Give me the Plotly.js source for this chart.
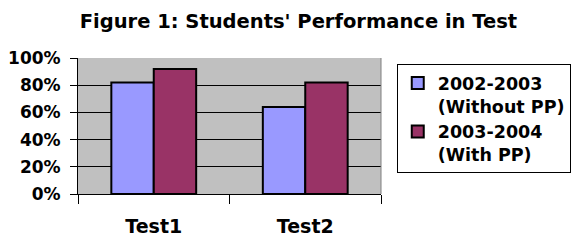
<!DOCTYPE html>
<html><head><meta charset="utf-8">
<script src="https://cdn.plot.ly/plotly-3.0.1.min.js"></script>
<style>html,body{margin:0;padding:0;background:#fff}</style>
</head><body><div id="chart" style="width:575px;height:240px"></div>
<script>
const categories = ['Test1', 'Test2'];
const series1Name = '2002-2003<br>(Without PP)';
const series1 = [82, 64];
const series2Name = '2003-2004<br>(With PP)';
const series2 = [92, 82];
const yTickVals = [0, 20, 40, 60, 80, 100];
const yTickText = ['0%', '20%', '40%', '60%', '80%', '100%'];

const F = 'DejaVu Sans, Arial, sans-serif';
const data = [
  {type:'bar', x:categories, y:series1, name:series1Name,
   marker:{color:'#9999ff', line:{color:'#000', width:2}}},
  {type:'bar', x:categories, y:series2, name:series2Name,
   marker:{color:'#993366', line:{color:'#000', width:2}}}
];
const layout = {
  width:575, height:240,
  margin:{l:78, r:194, t:58, b:46},
  paper_bgcolor:'#fff', plot_bgcolor:'#c0c0c0',
  title:{text:"Figure 1: Students' Performance in Test", font:{family:F, size:19.5, weight:'bold', color:'#000'},
         x:0.519, xanchor:'center', y:0.9125, yanchor:'middle'},
  barmode:'group', bargap:0.44, bargroupgap:0,
  showlegend:true,
  legend:{xref:'container', yref:'container', x:0.69, xanchor:'left', y:0.733, yanchor:'top',
          bordercolor:'#000', borderwidth:1,
          bgcolor:'#fff', font:{family:F, size:17.5, weight:'bold', color:'#000'}, valign:'top',
          traceorder:'normal'},
  xaxis:{type:'category', tickson:'boundaries', ticks:'outside', ticklen:9, tickcolor:'#000',
         showline:true, linecolor:'#000', linewidth:1, showgrid:false,
         tickfont:{family:F, size:19, weight:'bold', color:'#000'}, ticklabelstandoff:15},
  yaxis:{range:[0,100], tickvals:yTickVals, ticktext:yTickText, ticks:'outside', ticklen:7,
         tickcolor:'#000', showline:true, linecolor:'#000', linewidth:1,
         showgrid:true, gridcolor:'#000', gridwidth:1, zeroline:false, ticklabelstandoff:6,
         tickfont:{family:F, size:17, weight:'bold', color:'#000'}},
  shapes:[{type:'line', xref:'paper', yref:'paper', x0:1, x1:1, y0:0, y1:1, line:{color:'#808080', width:1}}]
};
Plotly.newPlot('chart', data, layout, {displayModeBar:false, staticPlot:true});
</script></body></html>
